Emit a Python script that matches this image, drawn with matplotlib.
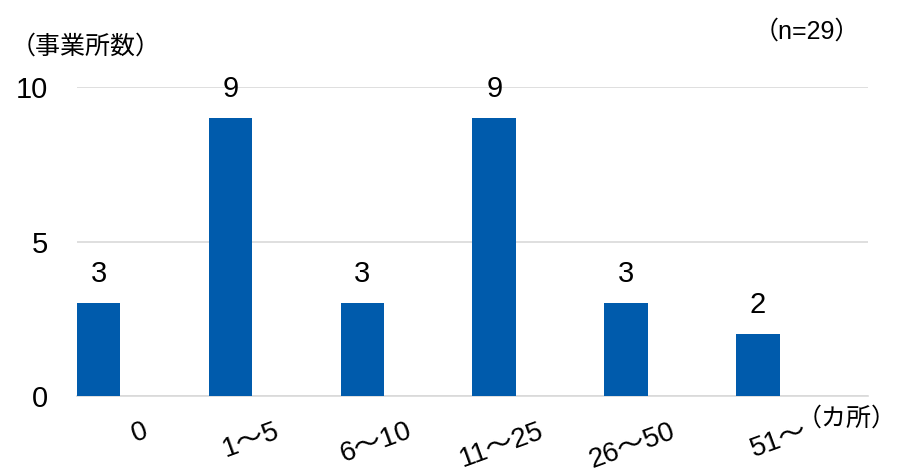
import matplotlib.pyplot as plt

plt.rcParams['font.family'] = ['Liberation Sans', 'Noto Sans CJK JP']

# 店舗数の区分ごとの事業所数
categories = ['0', '1～5', '6～10', '11～25', '26～50', '51～']
counts = [3, 9, 3, 9, 3, 2]

bar_color = '#005BAC'
grid_color = '#D9D9D9'

fig = plt.figure(figsize=(8.97, 4.76), dpi=100)
ax = fig.add_axes([0.0858, 0.168, 0.8819, 0.649])

xs = list(range(len(categories)))
bars = ax.bar(xs, counts, width=0.33, align='edge', color=bar_color, zorder=3)

for b, v in zip(bars, counts):
    ax.annotate(str(v), (b.get_x() + b.get_width() / 2, v),
                xytext=(0, 11), textcoords='offset points',
                ha='center', va='bottom', fontsize=21)

ax.set_xlim(0, len(categories))
ax.set_ylim(0, 10)
ax.set_yticks([0, 5, 10])
ax.tick_params(axis='y', length=0, labelsize=21, pad=21)
ax.yaxis.grid(True, color=grid_color, linewidth=1.2, zorder=0)

ax.set_xticks([x + 0.5 for x in xs])
ax.set_xticklabels(categories, rotation=20, ha='right', rotation_mode='anchor',
                   fontsize=20)
ax.tick_params(axis='x', length=0, pad=16)

for side in ['top', 'left', 'right']:
    ax.spines[side].set_visible(False)
ax.spines['bottom'].set_color(grid_color)
ax.spines['bottom'].set_linewidth(1.2)

fig.text(11 / 897, 1 - 47 / 476, '（事業所数）', fontsize=18, va='center', ha='left')
fig.text(860 / 897, 1 - 32 / 476, '（n=29）', fontsize=18, va='center', ha='right')
fig.text(897 / 897, 1 - 419 / 476, '（カ所）', fontsize=18, va='center', ha='right')

fig.savefig('out.png', dpi=100)
